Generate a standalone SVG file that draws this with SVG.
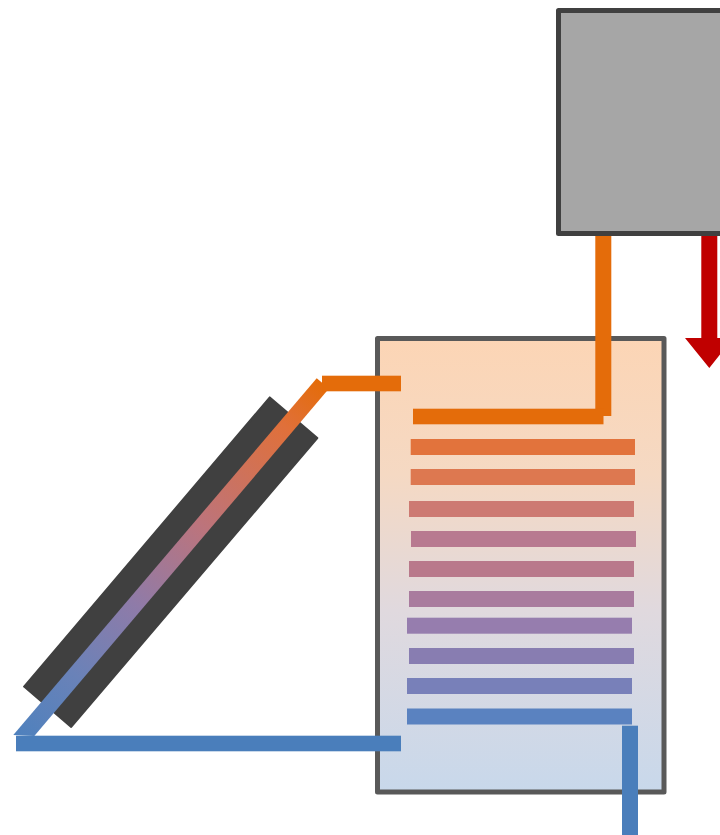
<svg xmlns="http://www.w3.org/2000/svg" width="720" height="835" viewBox="0 0 720 835">
<style>
.bar{stroke:none}
.pipe{stroke:none}
.orange{fill:#e46c0a}
.blue{fill:#4a7ebb}
</style>
<defs>
<linearGradient id="tankFill" x1="0" y1="0" x2="0" y2="1">
<stop offset="0" stop-color="#fcd5b5"/><stop offset=".3" stop-color="#f5d9c3"/><stop offset=".6" stop-color="#e0d9de"/><stop offset="1" stop-color="#c8d8eb"/>
</linearGradient>
<linearGradient id="diagFill" gradientUnits="userSpaceOnUse" x1="321" y1="384" x2="20" y2="737">
<stop offset="0" stop-color="#e46c0a"/><stop offset=".12" stop-color="#e0703a"/><stop offset=".4" stop-color="#bc747c"/><stop offset=".62" stop-color="#8f7ba8"/><stop offset=".82" stop-color="#6a82b8"/><stop offset="1" stop-color="#4f81bd"/>
</linearGradient>
</defs>
<g id="boiler"><rect x="558.5" y="10.5" width="170" height="223" fill="#a6a6a6" stroke="#404040" stroke-width="5" stroke-linejoin="round"/></g>
<g id="tank"><rect x="377.5" y="338.5" width="286.5" height="453.5" fill="url(#tankFill)" stroke="#595959" stroke-width="5" stroke-linejoin="round"/></g>
<g id="collector"><polygon points="269.8,397.4 317.3,438.1 71.2,726.9 24.1,686.6" fill="#404040" stroke="#404040" stroke-width="2" stroke-linejoin="round"/></g>
<g id="coil">
<rect class="bar" x="410.700" y="439" width="224.300" height="16" fill="#e2733c"/>
<rect class="bar" x="410.700" y="469" width="224.300" height="16" fill="#dd7850"/>
<rect class="bar" x="409" y="501" width="225" height="16" fill="#cd7a72"/>
<rect class="bar" x="411" y="531" width="225" height="16" fill="#b87a90"/>
<rect class="bar" x="409" y="561" width="225" height="16" fill="#b9798b"/>
<rect class="bar" x="409" y="591" width="225" height="16" fill="#a97b9e"/>
<rect class="bar" x="407" y="617.700" width="225" height="16" fill="#967dae"/>
<rect class="bar" x="409" y="648" width="225" height="16" fill="#887db1"/>
<rect class="bar" x="407" y="678" width="225" height="16" fill="#7880b9"/>
<rect class="bar" x="407" y="708.500" width="225" height="16" fill="#5a82c0"/>
</g>
<g id="connectors">
<polygon class="pipe" points="316.700,378.300 329,388.600 34.300,736 13.300,735" fill="url(#diagFill)"/>
<rect class="pipe orange" x="322" y="375.700" width="79" height="15.600"/>
<rect class="pipe blue" x="16" y="735.700" width="385" height="15.600"/>
<rect class="pipe orange" x="595.300" y="236" width="16" height="180"/>
<rect class="pipe orange" x="413" y="408.700" width="190.500" height="15.600"/>
<rect class="pipe blue" x="622" y="725.700" width="16" height="110"/>
<polygon points="701.300,236 717.300,236 717.300,338 733,338 709.300,368 685,338 701.300,338" fill="#c00000"/>
</g>
</svg>
